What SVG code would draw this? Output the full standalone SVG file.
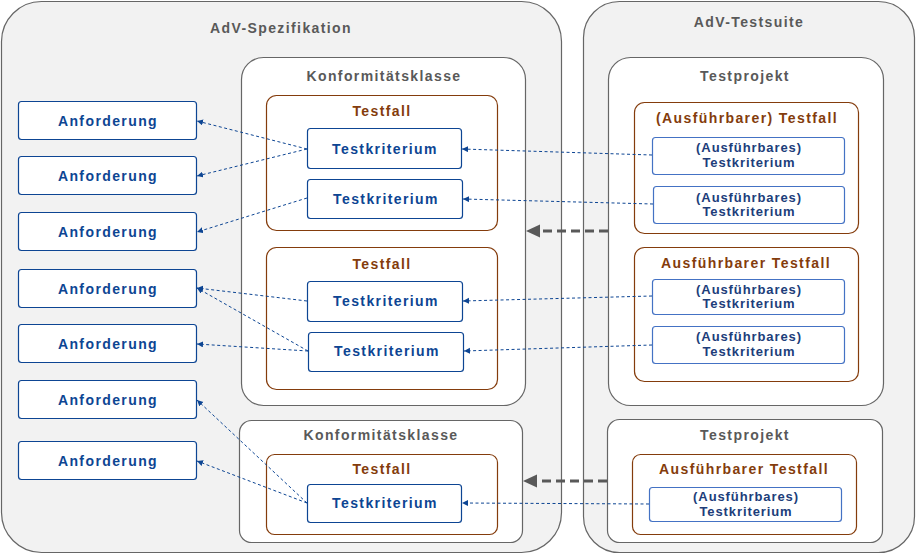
<svg xmlns="http://www.w3.org/2000/svg" width="916" height="555" viewBox="0 0 916 555">
<defs>
<style>
.outer{fill:#f2f2f2;stroke:#666;stroke-width:1.2}
.kk{fill:#fff;stroke:#666;stroke-width:1.2}
.tf{fill:#fff;stroke:#843c0c;stroke-width:1.2}
.box{fill:#fff;stroke:#0d4593;stroke-width:1.2}
.abox{fill:#fff;stroke:#4472c4;stroke-width:1.2}
text{font-family:"Liberation Sans",Arial,sans-serif;font-weight:bold;text-anchor:middle;letter-spacing:1.4px}
.tg{fill:#595959;font-size:14px}
.tb{fill:#843c0c;font-size:14px}
.tn{fill:#0d4593;font-size:14px}
.ta{fill:#203d7a;font-size:13px;letter-spacing:0.9px}
.con{fill:none;stroke:#0d4593;stroke-width:1;stroke-dasharray:3,2.5}
.big{fill:none;stroke:#595959;stroke-width:3.2;stroke-dasharray:9,5}
</style>
<marker id="ah" markerUnits="userSpaceOnUse" markerWidth="8" markerHeight="8" refX="6" refY="3" orient="auto">
<path d="M0,0 L6,3 L0,6 z" fill="#0d4593"/>
</marker>
<marker id="bh" markerUnits="userSpaceOnUse" markerWidth="16" markerHeight="16" refX="2" refY="6.5" orient="auto">
<path d="M0,0 L14,6.5 L0,13 z" fill="#595959"/>
</marker>
</defs>

<g id="spezifikation">
<rect class="outer" x="1.5" y="1.5" width="560" height="551" rx="40"/>
<text class="tg" x="281" y="33">AdV-Spezifikation</text>
</g>
<g id="testsuite">
<rect class="outer" x="583.5" y="1.5" width="331" height="551" rx="36"/>
<text class="tg" x="749" y="27">AdV-Testsuite</text>
</g>

<g id="anf1"><rect class="box" x="18.5" y="101.5" width="178" height="38" rx="3"/><text class="tn" x="108" y="126">Anforderung</text></g>
<g id="anf2"><rect class="box" x="18.5" y="156.5" width="178" height="38" rx="3"/><text class="tn" x="108" y="181">Anforderung</text></g>
<g id="anf3"><rect class="box" x="18.5" y="212.5" width="178" height="38" rx="3"/><text class="tn" x="108" y="237">Anforderung</text></g>
<g id="anf4"><rect class="box" x="18.5" y="269.5" width="178" height="38" rx="3"/><text class="tn" x="108" y="294">Anforderung</text></g>
<g id="anf5"><rect class="box" x="18.5" y="324.5" width="178" height="38" rx="3"/><text class="tn" x="108" y="349">Anforderung</text></g>
<g id="anf6"><rect class="box" x="18.5" y="380.5" width="178" height="38" rx="3"/><text class="tn" x="108" y="405">Anforderung</text></g>
<g id="anf7"><rect class="box" x="18.5" y="441.5" width="178" height="38" rx="3"/><text class="tn" x="108" y="466">Anforderung</text></g>

<g id="kk1">
<rect class="kk" x="241.5" y="57.5" width="284" height="348" rx="22"/>
<text class="tg" x="384" y="81">Konformitätsklasse</text>
</g>
<g id="tf1">
<rect class="tf" x="266.5" y="95.5" width="231" height="135" rx="10"/>
<text class="tb" x="382" y="116">Testfall</text>
</g>
<g id="tk1"><rect class="box" x="307.5" y="128.5" width="154" height="40" rx="3"/><text class="tn" x="385" y="154">Testkriterium</text></g>
<g id="tk2"><rect class="box" x="307.5" y="179.5" width="155" height="39" rx="3"/><text class="tn" x="386" y="204">Testkriterium</text></g>
<g id="tf2">
<rect class="tf" x="266.5" y="247.5" width="231" height="142" rx="10"/>
<text class="tb" x="382" y="269">Testfall</text>
</g>
<g id="tk3"><rect class="box" x="307.5" y="281.5" width="155" height="40" rx="3"/><text class="tn" x="386" y="306">Testkriterium</text></g>
<g id="tk4"><rect class="box" x="308.5" y="332.5" width="155" height="39" rx="3"/><text class="tn" x="387" y="356">Testkriterium</text></g>

<g id="kk2">
<rect class="kk" x="239.5" y="420.5" width="283" height="122" rx="12"/>
<text class="tg" x="381" y="440">Konformitätsklasse</text>
</g>
<g id="tf3">
<rect class="tf" x="266.5" y="454.5" width="231" height="80" rx="8"/>
<text class="tb" x="382" y="474">Testfall</text>
</g>
<g id="tk5"><rect class="box" x="307.5" y="484.5" width="154" height="38" rx="3"/><text class="tn" x="385" y="508">Testkriterium</text></g>

<g id="tp1">
<rect class="kk" x="608.5" y="57.5" width="275" height="348" rx="22"/>
<text class="tg" x="745" y="81">Testprojekt</text>
</g>
<g id="atf1">
<rect class="tf" x="634.5" y="102.5" width="224" height="131" rx="10"/>
<text class="tb" x="747" y="123">(Ausführbarer) Testfall</text>
</g>
<g id="atk1"><rect class="abox" x="652.5" y="137.5" width="192" height="37" rx="3"/><text class="ta" x="749" y="152">(Ausführbares)</text><text class="ta" x="749" y="167">Testkriterium</text></g>
<g id="atk2"><rect class="abox" x="653.5" y="186.5" width="191" height="37" rx="3"/><text class="ta" x="749" y="202">(Ausführbares)</text><text class="ta" x="749" y="216">Testkriterium</text></g>
<g id="atf2">
<rect class="tf" x="634.5" y="247.5" width="224" height="134" rx="10"/>
<text class="tb" x="746" y="268">Ausführbarer Testfall</text>
</g>
<g id="atk3"><rect class="abox" x="652.5" y="279.5" width="192" height="35" rx="3"/><text class="ta" x="749" y="294">(Ausführbares)</text><text class="ta" x="749" y="308">Testkriterium</text></g>
<g id="atk4"><rect class="abox" x="652.5" y="326.5" width="192" height="37" rx="3"/><text class="ta" x="749" y="341">(Ausführbares)</text><text class="ta" x="749" y="356">Testkriterium</text></g>

<g id="tp2">
<rect class="kk" x="607.5" y="419.5" width="275" height="123" rx="12"/>
<text class="tg" x="745" y="440">Testprojekt</text>
</g>
<g id="atf3">
<rect class="tf" x="632.5" y="454.5" width="224" height="80" rx="8"/>
<text class="tb" x="744" y="474">Ausführbarer Testfall</text>
</g>
<g id="atk5"><rect class="abox" x="649.5" y="487.5" width="192" height="34" rx="3"/><text class="ta" x="746" y="501">(Ausführbares)</text><text class="ta" x="746" y="516">Testkriterium</text></g>

<g id="connectors">
<line class="con" x1="307" y1="149" x2="197" y2="121" marker-end="url(#ah)"/>
<line class="con" x1="307" y1="149" x2="197" y2="176" marker-end="url(#ah)"/>
<line class="con" x1="307" y1="198" x2="197" y2="232" marker-end="url(#ah)"/>
<line class="con" x1="307" y1="301" x2="197" y2="288" marker-end="url(#ah)"/>
<line class="con" x1="308" y1="351" x2="197" y2="288" marker-end="url(#ah)"/>
<line class="con" x1="308" y1="351" x2="197" y2="344" marker-end="url(#ah)"/>
<line class="con" x1="307" y1="503" x2="197" y2="400" marker-end="url(#ah)"/>
<line class="con" x1="307" y1="503" x2="197" y2="461" marker-end="url(#ah)"/>
<line class="con" x1="652" y1="155" x2="462" y2="149" marker-end="url(#ah)"/>
<line class="con" x1="653" y1="204" x2="463" y2="199" marker-end="url(#ah)"/>
<line class="con" x1="652" y1="296" x2="463" y2="301" marker-end="url(#ah)"/>
<line class="con" x1="652" y1="345" x2="464" y2="351" marker-end="url(#ah)"/>
<line class="con" x1="649" y1="504" x2="462" y2="503" marker-end="url(#ah)"/>
<line class="big" x1="608" y1="231" x2="538" y2="231" marker-end="url(#bh)"/>
<line class="big" x1="607" y1="481" x2="535" y2="481" marker-end="url(#bh)"/>
</g>
</svg>
